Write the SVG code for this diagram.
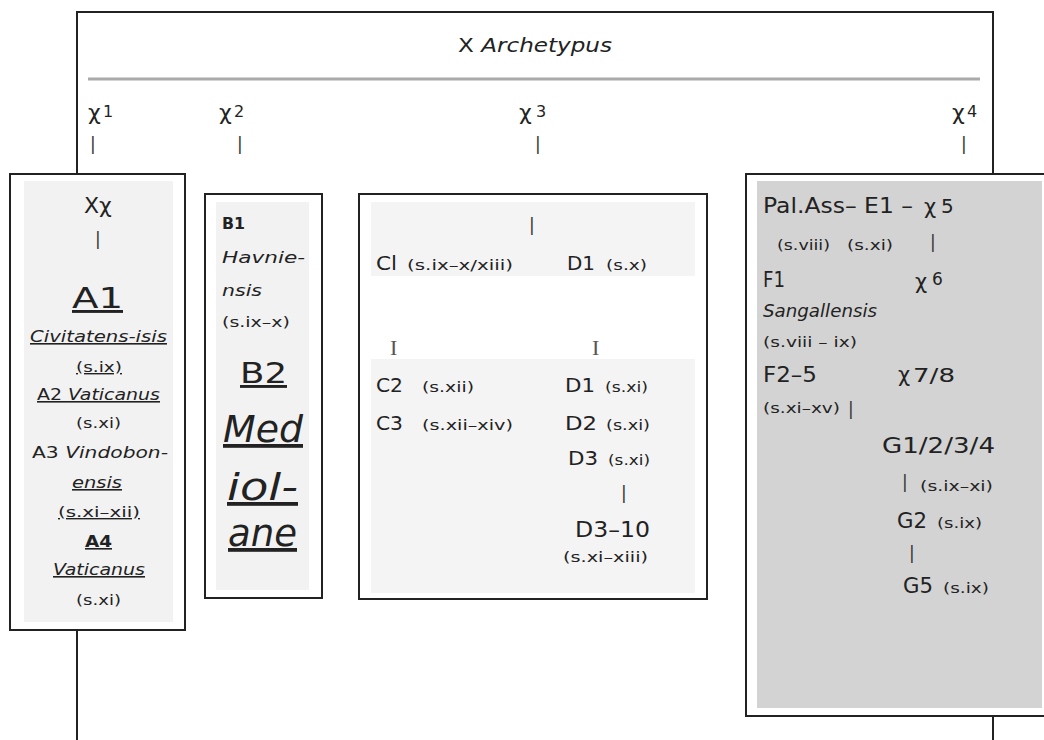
<svg xmlns="http://www.w3.org/2000/svg" width="1044" height="740" viewBox="0 0 1044 740">
<style>
text{font-family:"DejaVu Sans","Liberation Sans",sans-serif;fill:#222;}
.i{font-style:italic;}
.u{text-decoration:underline;}
.b{font-weight:bold;}
.s{font-size:14px;}
.m{font-size:16px;}
.l{font-size:19px;}
.g{font-size:21px;}
.bar{font-size:17px;fill:#333;}
.serif{font-family:"Liberation Serif",serif;fill:#555;font-size:22px;}
.box{fill:#fff;stroke:#222;stroke-width:2;}
.frame{fill:none;stroke:#222;stroke-width:2;}
</style>
<rect width="1044" height="740" fill="#fff"/>
<g id="connectors">
<path class="frame" d="M77,740 V12 H993 V740"/>
<line x1="88" y1="79" x2="980" y2="79" stroke="#aaa" stroke-width="3"/>
</g>
<g id="archetype">
<text x="458" y="52" font-size="19" textLength="154" lengthAdjust="spacingAndGlyphs"><tspan>X </tspan><tspan class="i">Archetypus</tspan></text>
<text x="88" y="120" font-size="22">χ</text><text x="103" y="117" font-size="16">1</text>
<text x="219" y="120" font-size="22">χ</text><text x="234" y="117" font-size="16">2</text>
<text x="519" y="120" font-size="22">χ</text><text x="536" y="117" font-size="16">3</text>
<text x="952" y="120" font-size="22">χ</text><text x="967" y="117" font-size="16">4</text>
<text class="bar" x="90" y="150">|</text>
<text class="bar" x="237" y="150">|</text>
<text class="bar" x="535" y="150">|</text>
<text class="bar" x="961" y="150">|</text>
</g>
<g id="nodeA">
<rect class="box" x="10" y="174" width="175" height="456"/>
<rect x="24" y="181" width="149" height="441" fill="#f2f2f2"/>
<text x="84" y="213" font-size="22">Xχ</text>
<text class="bar" x="95" y="245">|</text>
<text class="u" x="72" y="308" font-size="29" textLength="51" lengthAdjust="spacingAndGlyphs">A1</text>
<text class="i u m" x="30" y="342" textLength="137" lengthAdjust="spacingAndGlyphs">Civitatens-isis</text>
<text class="u s" x="76" y="372" textLength="46" lengthAdjust="spacingAndGlyphs">(s.ix)</text>
<text class="u m" x="37" y="400" textLength="123" lengthAdjust="spacingAndGlyphs"><tspan>A2 </tspan><tspan class="i">Vaticanus</tspan></text>
<text class="s" x="76" y="428" textLength="45" lengthAdjust="spacingAndGlyphs">(s.xi)</text>
<text class="m" x="32" y="458" textLength="136" lengthAdjust="spacingAndGlyphs"><tspan>A3 </tspan><tspan class="i">Vindobon-</tspan></text>
<text class="i u m" x="72" y="488" textLength="50" lengthAdjust="spacingAndGlyphs">ensis</text>
<text class="u s" x="58" y="517" textLength="82" lengthAdjust="spacingAndGlyphs">(s.xi–xii)</text>
<text class="u m b" x="85" y="547" textLength="27" lengthAdjust="spacingAndGlyphs">A4</text>
<text class="i u m" x="53" y="575" textLength="92" lengthAdjust="spacingAndGlyphs">Vaticanus</text>
<text class="s" x="76" y="605" textLength="45" lengthAdjust="spacingAndGlyphs">(s.xi)</text>
</g>
<g id="nodeB">
<rect class="box" x="205" y="194" width="117" height="404"/>
<rect x="216" y="202" width="93" height="388" fill="#f2f2f2"/>
<text class="m b" x="222" y="229" textLength="23" lengthAdjust="spacingAndGlyphs">B1</text>
<text class="m i" x="222" y="263" textLength="83" lengthAdjust="spacingAndGlyphs">Havnie-</text>
<text class="m i" x="222" y="296" textLength="40" lengthAdjust="spacingAndGlyphs">nsis</text>
<text class="s" x="222" y="327" textLength="68" lengthAdjust="spacingAndGlyphs">(s.ix–x)</text>
<text class="u" x="240" y="383" font-size="29" textLength="47" lengthAdjust="spacingAndGlyphs">B2</text>
<text class="u i" x="223" y="442" font-size="38" textLength="80" lengthAdjust="spacingAndGlyphs">Med</text>
<text class="u i" x="227" y="500" font-size="38" textLength="71" lengthAdjust="spacingAndGlyphs">iol-</text>
<text class="u i" x="228" y="546" font-size="38" textLength="69" lengthAdjust="spacingAndGlyphs">ane</text>
</g>
<g id="nodeCD">
<rect class="box" x="359" y="194" width="348" height="405"/>
<rect x="371" y="202" width="324" height="74" fill="#f4f4f4"/>
<rect x="371" y="359" width="324" height="234" fill="#f4f4f4"/>
<text class="bar" x="529" y="231" font-size="14">|</text>
<text class="l" x="376" y="270" textLength="21" lengthAdjust="spacingAndGlyphs">Cl</text>
<text class="s" x="407" y="270" textLength="106" lengthAdjust="spacingAndGlyphs">(s.ix–x/xiii)</text>
<text class="l" x="567" y="270" textLength="28" lengthAdjust="spacingAndGlyphs">D1</text>
<text class="s" x="606" y="270" textLength="41" lengthAdjust="spacingAndGlyphs">(s.x)</text>
<text class="serif" x="390" y="355">I</text>
<text class="serif" x="592" y="355">I</text>
<text class="l" x="376" y="392" textLength="27" lengthAdjust="spacingAndGlyphs">C2</text>
<text class="s" x="422" y="392" textLength="52" lengthAdjust="spacingAndGlyphs">(s.xii)</text>
<text class="l" x="565" y="392" textLength="30" lengthAdjust="spacingAndGlyphs">D1</text>
<text class="s" x="605" y="392" textLength="43" lengthAdjust="spacingAndGlyphs">(s.xi)</text>
<text class="l" x="376" y="430" textLength="27" lengthAdjust="spacingAndGlyphs">C3</text>
<text class="s" x="422" y="430" textLength="91" lengthAdjust="spacingAndGlyphs">(s.xii–xiv)</text>
<text class="l" x="565" y="430" textLength="32" lengthAdjust="spacingAndGlyphs">D2</text>
<text class="s" x="606" y="430" textLength="44" lengthAdjust="spacingAndGlyphs">(s.xi)</text>
<text class="l" x="568" y="465" textLength="30" lengthAdjust="spacingAndGlyphs">D3</text>
<text class="s" x="608" y="465" textLength="42" lengthAdjust="spacingAndGlyphs">(s.xi)</text>
<text class="bar" x="621" y="499" font-size="15">|</text>
<text x="575" y="537" font-size="21" textLength="75" lengthAdjust="spacingAndGlyphs">D3–10</text>
<text class="s" x="563" y="562" textLength="85" lengthAdjust="spacingAndGlyphs">(s.xi–xiii)</text>
</g>
<g id="nodeEFG">
<rect class="box" x="746" y="174" width="310" height="542"/>
<rect x="757" y="181" width="285" height="527" fill="#d3d3d3"/>
<text class="g" x="763" y="213" textLength="150" lengthAdjust="spacingAndGlyphs">Pal.Ass– E1 –</text>
<text x="924" y="214" font-size="21">χ</text><text x="941" y="213" font-size="20">5</text>
<text class="s" x="777" y="250" textLength="53" lengthAdjust="spacingAndGlyphs">(s.viii)</text>
<text class="s" x="847" y="250" textLength="46" lengthAdjust="spacingAndGlyphs">(s.xi)</text>
<text class="bar" x="930" y="248" font-size="14">|</text>
<text class="g" x="763" y="287" textLength="22" lengthAdjust="spacingAndGlyphs">F1</text>
<text x="915" y="289" font-size="21">χ</text><text x="932" y="285" font-size="17">6</text>
<text class="i" x="763" y="317" font-size="17" textLength="114" lengthAdjust="spacingAndGlyphs">Sangallensis</text>
<text class="s" x="763" y="347" textLength="94" lengthAdjust="spacingAndGlyphs">(s.viii – ix)</text>
<text class="g" x="763" y="382" textLength="54" lengthAdjust="spacingAndGlyphs">F2–5</text>
<text x="898" y="382" font-size="21">χ</text><text x="913" y="382" font-size="20" textLength="42" lengthAdjust="spacingAndGlyphs">7/8</text>
<text class="s" x="763" y="413" textLength="77" lengthAdjust="spacingAndGlyphs">(s.xi–xv)</text>
<text class="bar" x="848" y="415" font-size="15">|</text>
<text class="g" x="882" y="453" textLength="113" lengthAdjust="spacingAndGlyphs">G1/2/3/4</text>
<text class="bar" x="902" y="488">|</text>
<text class="s" x="920" y="491" textLength="73" lengthAdjust="spacingAndGlyphs">(s.ix–xi)</text>
<text class="g" x="897" y="528" textLength="30" lengthAdjust="spacingAndGlyphs">G2</text>
<text class="s" x="937" y="528" textLength="45" lengthAdjust="spacingAndGlyphs">(s.ix)</text>
<text class="bar" x="909" y="559" font-size="16">|</text>
<text class="g" x="903" y="593" textLength="30" lengthAdjust="spacingAndGlyphs">G5</text>
<text class="s" x="943" y="593" textLength="46" lengthAdjust="spacingAndGlyphs">(s.ix)</text>
</g>
</svg>
